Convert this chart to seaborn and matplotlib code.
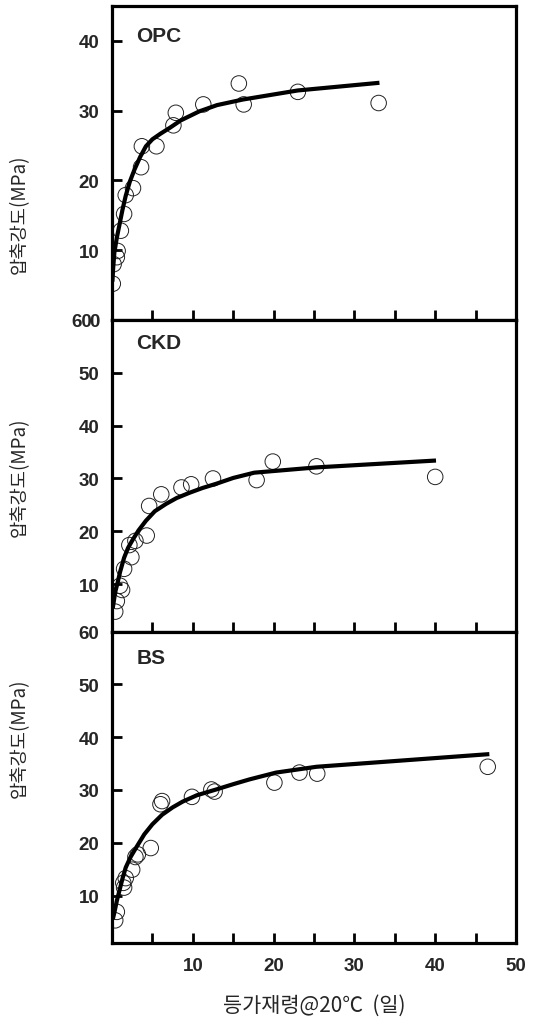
import matplotlib
matplotlib.use("Agg")
import matplotlib.pyplot as plt
import matplotlib.transforms as mtransforms
import seaborn as sns
import pandas as pd

sns.set_theme(style="white")
plt.rcParams["font.family"] = ["Liberation Sans", "DejaVu Sans"]

KFONT = ["Noto Sans CJK KR", "DejaVu Sans"]

# --- measured strengths (equivalent age in days, compressive strength in MPa) ---
opc_age = [0.1, 0.2, 0.6, 0.7, 1.1, 1.5, 1.7, 2.6, 3.6, 3.7, 5.5, 7.6, 7.9, 11.3, 15.7, 16.3, 23.0, 33.0]
opc_str = [5.2, 8.0, 9.0, 9.9, 12.8, 15.2, 17.9, 18.9, 21.9, 24.9, 24.9, 27.9, 29.7, 30.9, 33.9, 30.9, 32.7, 31.1]

ckd_age = [0.4, 0.6, 1.25, 1.0, 1.5, 2.4, 2.15, 2.9, 4.3, 4.6, 6.1, 8.6, 9.8, 12.5, 17.9, 19.9, 25.3, 40.0]
ckd_str = [4.8, 6.8, 8.9, 9.7, 12.9, 15.1, 17.4, 18.2, 19.2, 24.8, 27.0, 28.3, 28.9, 30.0, 29.7, 33.2, 32.3, 30.3]

bs_age = [0.4, 0.6, 1.5, 1.4, 1.7, 2.5, 2.9, 3.2, 4.8, 6.0, 6.2, 9.9, 12.3, 12.7, 20.1, 23.2, 25.4, 46.5]
bs_str = [5.3, 6.9, 11.5, 12.4, 13.3, 14.9, 17.3, 17.8, 19.0, 27.3, 27.9, 28.7, 30.1, 29.7, 31.4, 33.3, 33.1, 34.4]

# --- fitted strength-development curves ---
opc_fit_age = [0.05, 0.15, 0.3, 0.6, 0.9, 1.3, 1.7, 2.2, 2.8, 3.5, 4.2, 5.0, 6.0,
               7.1, 8.5, 10.8, 13.0, 16.2, 23.0, 33.1]
opc_fit_str = [5.5, 7.5, 9.7, 11.8, 13.5, 15.8, 17.8, 19.8, 21.6, 23.4, 24.9, 25.9, 26.7,
               27.5, 28.6, 29.9, 30.8, 31.6, 32.9, 34.0]

ckd_fit_age = [0.1, 0.4, 0.7, 1.0, 1.5, 2.0, 2.6, 3.3, 4.2, 5.3, 6.7, 8.0, 9.6,
               11.2, 12.9, 15.0, 17.6, 25.3, 40.1]
ckd_fit_str = [5.5, 8.5, 10.3, 12.3, 15.0, 16.9, 18.5, 20.2, 22.0, 23.8, 25.2, 26.3, 27.3,
               28.2, 29.0, 30.1, 31.1, 32.1, 33.4]

bs_fit_age = [0.1, 0.3, 0.6, 0.9, 1.3, 1.7, 2.3, 3.0, 4.0, 5.0, 6.2, 7.5, 8.75,
              10.5, 12.9, 15.0, 17.0, 20.3, 25.3, 46.7]
bs_fit_str = [5.5, 6.8, 9.0, 10.8, 13.2, 15.3, 17.3, 19.1, 21.6, 23.5, 25.3, 26.7, 27.8,
              29.0, 30.1, 31.1, 32.0, 33.3, 34.4, 36.8]

panel_names = ["OPC", "CKD", "BS"]
y_ticks = [[0, 10, 20, 30, 40], [10, 20, 30, 40, 50, 60], [10, 20, 30, 40, 50, 60]]
y_limits = [(0, 45), (1, 60), (1, 60)]
x_major = [10, 20, 30, 40, 50]
x_minor = [5, 15, 25, 35, 45]

points = [(opc_age, opc_str), (ckd_age, ckd_str), (bs_age, bs_str)]
curves = [(opc_fit_age, opc_fit_str), (ckd_fit_age, ckd_fit_str), (bs_fit_age, bs_fit_str)]

fig = plt.figure(figsize=(5.34, 10.2), dpi=100)
left, width = 0.2097, 0.7566
boxes = [(0.6853, 0.3078), (0.3797, 0.3056), (0.0745, 0.3052)]
label_y = [0.34, 0.5, 0.66]
title_y = [0.905, 0.928, 0.918]

for i in range(3):
    ax = fig.add_axes([left, boxes[i][0], width, boxes[i][1]])
    pts = pd.DataFrame({"age": points[i][0], "strength": points[i][1]})
    fit = pd.DataFrame({"age": curves[i][0], "strength": curves[i][1]})

    sns.scatterplot(data=pts, x="age", y="strength", ax=ax, s=125,
                    facecolor="none", edgecolor="#222222", linewidth=0.7,
                    zorder=2, legend=False)
    sns.lineplot(data=fit, x="age", y="strength", ax=ax, sort=False,
                 color="black", linewidth=3.0, estimator=None, zorder=3,
                 solid_capstyle="butt", solid_joinstyle="round")

    ax.set_xlim(0, 50)
    ax.set_ylim(*y_limits[i])
    ax.set_yticks(y_ticks[i])
    ax.set_xticks(x_major)
    ax.set_xticks(x_minor, minor=True)
    ax.tick_params(axis="both", which="both", direction="in", length=7,
                   width=2.0, color="black", bottom=True, left=True)
    ax.tick_params(axis="y", labelsize=13.5, pad=9)
    ax.tick_params(axis="x", labelsize=13.5, pad=10)
    for lab in ax.get_yticklabels() + ax.get_xticklabels():
        lab.set_fontweight("bold")
    if i < 2:
        ax.tick_params(axis="x", labelbottom=False)

    # the middle panel's top label sits next to the upper panel's zero
    if i == 1:
        shift = mtransforms.ScaledTranslation(-5.5 / 72, 0, fig.dpi_scale_trans)
        top_lab = ax.get_yticklabels()[-1]
        top_lab.set_transform(top_lab.get_transform() + shift)

    for sp in ax.spines.values():
        sp.set_linewidth(2.3)
        sp.set_color("black")

    ax.set_ylabel("압축강도(MPa)", fontsize=13.5, family=KFONT)
    ax.yaxis.set_label_coords(-0.203, label_y[i])
    if i == 2:
        ax.set_xlabel("등가재령@20℃  (일)", fontsize=15, family=KFONT,
                      labelpad=14)
    else:
        ax.set_xlabel("")

    ax.text(0.06, title_y[i], panel_names[i], transform=ax.transAxes,
            fontsize=15, fontweight="bold", ha="left", va="center")

fig.savefig("out.png", dpi=100, facecolor="white")
